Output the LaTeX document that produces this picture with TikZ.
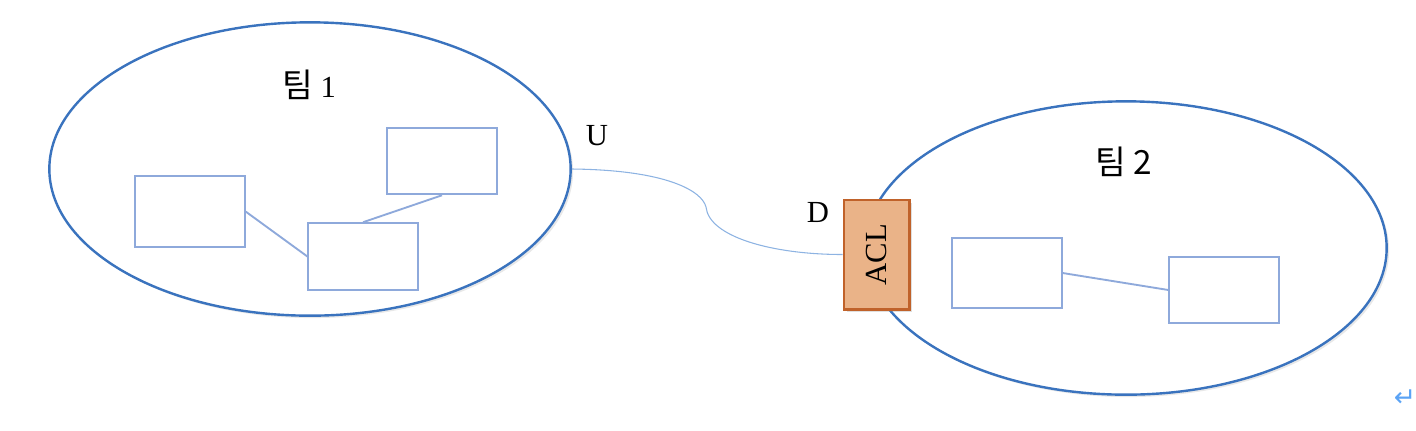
\documentclass[tikz,border=0pt]{standalone}
\usepackage{fontspec}
\setmainfont{Liberation Serif}
\newfontfamily\cjk{Noto Sans CJK KR}
\newfontfamily\symfont{DejaVu Sans}
\usetikzlibrary{shapes.geometric,shadows}
\definecolor{ellblue}{HTML}{3A73BE}
\definecolor{boxblue}{HTML}{8EA9DB}
\definecolor{linkblue}{HTML}{8DB3E2}
\definecolor{aclfill}{HTML}{EAB388}
\definecolor{acledge}{HTML}{C0622A}
\definecolor{retblue}{HTML}{5BA3F5}
\tikzset{
  team/.style={ellipse, draw=ellblue, line width=1.8pt, fill=white,
    minimum width=391pt, minimum height=220pt, inner sep=0pt,
    drop shadow={opacity=0.18, shadow xshift=1.8pt, shadow yshift=-1.8pt}},
  member/.style={rectangle, draw=boxblue, line width=1.4pt, fill=white,
    minimum width=82pt, minimum height=51pt, inner sep=0pt},
  memberlink/.style={draw=boxblue, line width=1.4pt},
  acl/.style={rectangle, draw=acledge, line width=2pt, fill=aclfill,
    minimum width=49pt, minimum height=82pt, inner sep=0pt,
    drop shadow={opacity=0.25, shadow xshift=2pt, shadow yshift=-2pt}},
  link/.style={draw=linkblue, line width=0.8pt},
  lbl/.style={font=\fontsize{23}{27}\selectfont, inner sep=0pt},
  klbl/.style={font=\cjk\fontsize{25}{29}\selectfont, inner sep=0pt},
}
\begin{document}
\begin{tikzpicture}[x=0.75pt, y=-0.75pt]
\useasboundingbox (0,0) rectangle (1416,430);
% team 1
\node[team] (e1) at (310,169) {};
\node[lbl] (t1) at (309,85) {{\cjk\fontsize{25}{29}\selectfont 팀} 1};
\node[member, minimum height=53pt] (a) at (190,211.5) {};
\node[member, minimum height=50pt] (b) at (442,161) {};
\node[member, minimum height=50pt] (c) at (363,256.5) {};
\draw[memberlink] (a.east) -- (c.west);
\draw[memberlink] (b.south) -- (c.north);
% team 2
\node[team] (e2) at (1126,248) {};
\node[klbl] (t2) at (1124,162) {팀 2};
\node[member, minimum height=53pt] (d) at (1007,273) {};
\node[member, minimum height=50pt] (e) at (1224,290) {};
\draw[memberlink] (d.east) -- (e.west);
% link and ACL
\node[acl] (acl) at (876.5,254.5) {};
\node[lbl, rotate=90] (acltxt) at (acl.center) {ACL};
\coordinate (kink) at (706,207);
\draw[link] (e1.east) .. controls +(95,1) and +(-4,-16) .. (kink)
  .. controls +(3,30) and +(-70,0) .. (acl.west);
\node[lbl] (u) at (597,136) {U};
\node[lbl] (dl) at (818,212) {D};
% return mark
\node[text=retblue, font=\symfont\fontsize{20}{22}\selectfont, inner sep=0pt] (ret) at (1405,398) {↵};
\end{tikzpicture}
\end{document}
